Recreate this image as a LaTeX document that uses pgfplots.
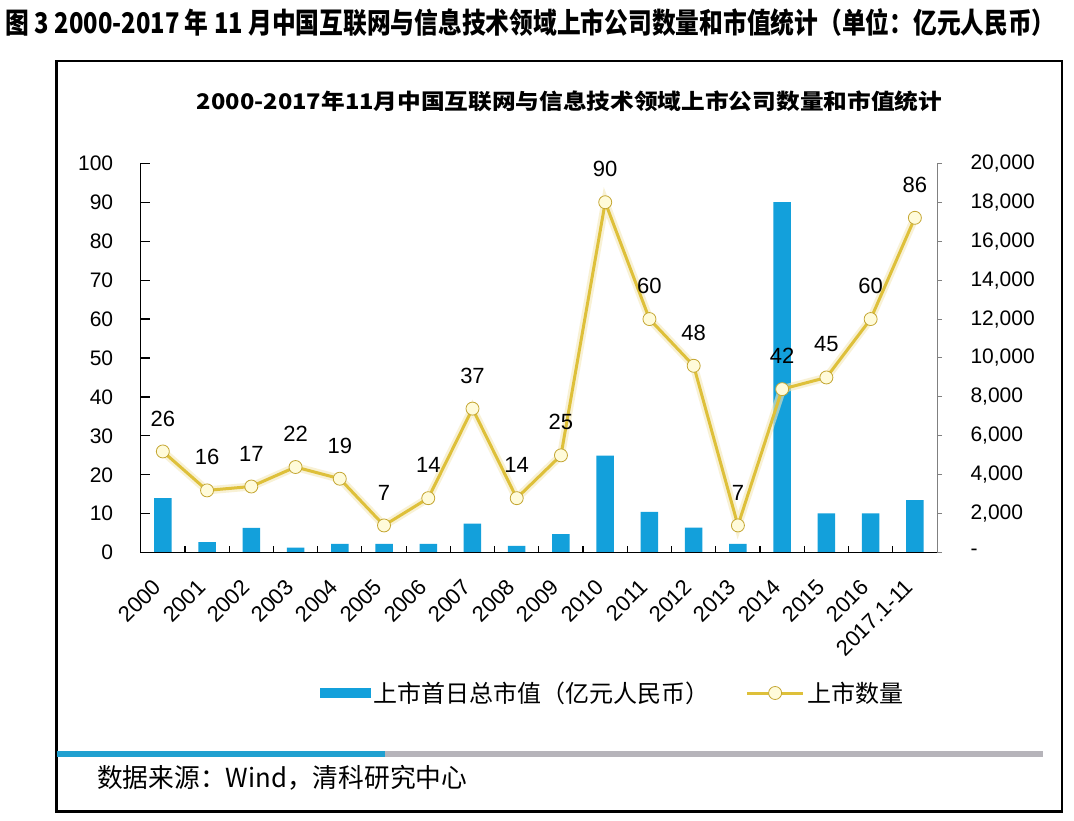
\documentclass[border=0pt]{standalone}
\usepackage{fontspec}
\usepackage{graphicx}
\usepackage{pgfplots}
\pgfplotsset{compat=1.18}
\setmainfont{Liberation Sans}
\newfontfamily\cjk{Noto Sans CJK SC}
\definecolor{barblue}{RGB}{19,160,219}
\definecolor{gold}{RGB}{222,192,58}
\definecolor{goldedge}{RGB}{196,166,50}
\definecolor{mfill}{RGB}{255,251,218}
\definecolor{pbblue}{RGB}{32,160,208}
\definecolor{pbgray}{RGB}{182,180,186}
\pgfplotsset{/pgf/number format/assume math mode=true,
  mylineleg/.style={legend image code/.code={\draw[mark repeat=2, mark phase=2, ##1] plot coordinates {(0pt,0pt) (28pt,0pt) (56pt,0pt)};}},
  mybarleg/.style={legend image code/.code={\fill[barblue] (0pt,-4.5pt) rectangle (50pt,4.5pt);}}}
\begin{document}
\begin{tikzpicture}[x=1pt,y=1pt]
\path[use as bounding box, fill=white] (0,0) rectangle (1074,820);
% top title
\node[anchor=west, inner sep=0] at (5.5,797.5) {\resizebox*{1050pt}{28pt}{\cjk\bfseries 图 3 2000-2017 年 11 月中国互联网与信息技术领域上市公司数量和市值统计（单位：亿元人民币）}};
% frame
\draw[line width=2.5pt] (56.7,8.3) rectangle (1062,759);
% inner title
\node[inner sep=0] at (569.5,718.3) {\resizebox*{745pt}{21pt}{\cjk\bfseries 2000-2017年11月中国互联网与信息技术领域上市公司数量和市值统计}};
% progress bar
\fill[pbblue] (57,63.3) rectangle (385,69.3);
\fill[pbgray] (385,63.3) rectangle (1043,69.3);
% source
\node[anchor=west, inner sep=0] at (97,42.5) {\resizebox*{370pt}{25pt}{\cjk 数据来源：Wind，清科研究中心}};

% bars on right axis
\begin{axis}[
  at={(140.7pt,267.3pt)}, anchor=south west, scale only axis,
  width=796.3pt, height=389.4pt,
  xmin=-0.5, xmax=17.5, ymin=0, ymax=20000,
  axis x line=none, axis y line*=right,
  scaled y ticks=false,
  y axis line style={draw=gray, line width=1pt},
  ytick={0,2000,...,20000},
  yticklabels={{-},{2,000},{4,000},{6,000},{8,000},{10,000},{12,000},{14,000},{16,000},{18,000},{20,000}},
  ytick style={draw=gray, line width=1pt},
  tick align=outside, major tick length=5pt,
  yticklabel style={anchor=west, xshift=25pt, font=\fontsize{21}{21}\selectfont},
  ybar, bar width=17.5pt,
]
\addplot[fill=barblue, draw=none] coordinates {
(0,2800) (1,540) (2,1280) (3,260) (4,450) (5,450) (6,450) (7,1490) (8,345)
(9,960) (10,4980) (11,2100) (12,1285) (13,450) (14,18000) (15,2020) (16,2020) (17,2700)};
\end{axis}

% line on left axis
\begin{axis}[
  at={(140.7pt,267.3pt)}, anchor=south west, scale only axis,
  width=796.3pt, height=389.4pt,
  xmin=-0.5, xmax=17.5, ymin=0, ymax=100,
  axis x line*=bottom, axis y line*=left,
  axis line style={draw=black, line width=1.3pt},
  ytick={0,10,...,100},
  tick align=inside,
  ytick style={draw=black, line width=1.2pt}, major tick length=9pt,
  yticklabel style={anchor=east, xshift=-24pt, font=\fontsize{21}{21}\selectfont},
  xtick={0,...,17},
  xticklabels={2000,2001,2002,2003,2004,2005,2006,2007,2008,2009,2010,2011,2012,2013,2014,2015,2016,2017.1-11},
  major x tick style={draw=none},
  minor xtick={0.5,1.5,...,16.5},
  minor x tick style={draw=black, line width=1.2pt},
  minor tick length=7pt,
  xticklabel style={xshift=-5.6pt, yshift=-30.5pt, rotate=45, anchor=east, inner sep=0pt, font=\fontsize{22}{22}\selectfont},
  legend style={at={(0.2252,-0.3603)}, anchor=west, draw=none, fill=none,
    legend columns=2, inner sep=0pt,
    nodes={font=\cjk\fontsize{24}{24}\selectfont, inner sep=3pt},
    /tikz/every even column/.append style={column sep=33pt}},
  legend cell align=left,
]
\addlegendimage{mybarleg}
\addlegendentry{上市首日总市值（亿元人民币）}
\addplot[gold!35, line width=8pt, opacity=0.6, forget plot] coordinates {
(0,26) (1,16) (2,17) (3,22) (4,19) (5,7) (6,14) (7,37) (8,14)
(9,25) (10,90) (11,60) (12,48) (13,7) (14,42) (15,45) (16,60) (17,86)};
\addplot[gold, line width=3pt, mark=*, mark size=6.5pt,
  mark options={fill=mfill, draw=goldedge, line width=0.8pt},
  nodes near coords, every node near coord/.append style={anchor=center, yshift=33pt, text=black, font=\fontsize{22}{22}\selectfont},
  mylineleg
] coordinates {
(0,26) (1,16) (2,17) (3,22) (4,19) (5,7) (6,14) (7,37) (8,14)
(9,25) (10,90) (11,60) (12,48) (13,7) (14,42) (15,45) (16,60) (17,86)};
\addlegendentry{上市数量}
\end{axis}
\end{tikzpicture}
\end{document}
